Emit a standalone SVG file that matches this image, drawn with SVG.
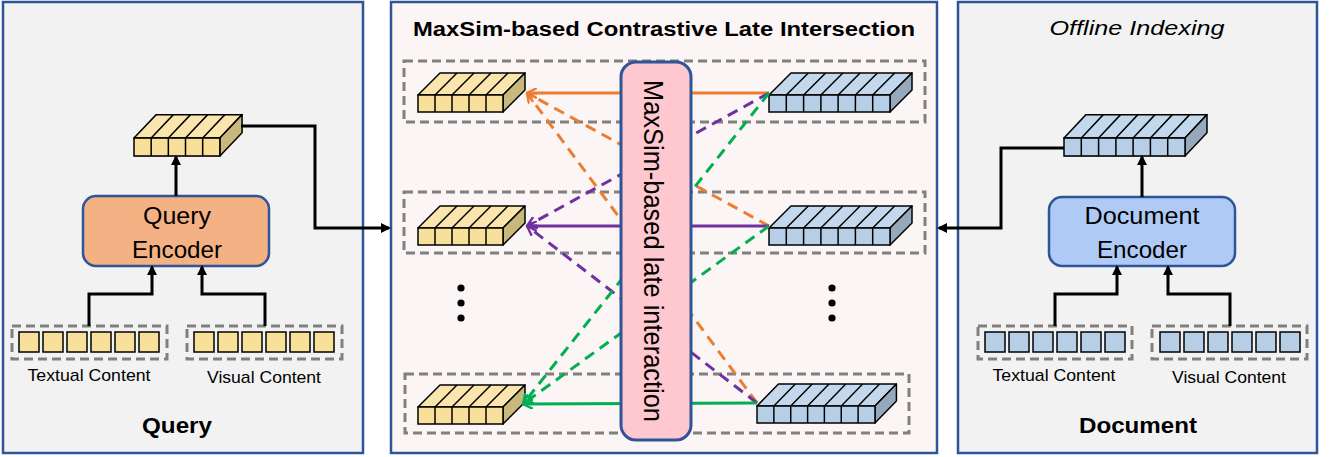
<svg xmlns="http://www.w3.org/2000/svg" width="1330" height="457" viewBox="0 0 1330 457">
<style>
.panel{fill:#F2F2F2;stroke:#2F5597;stroke-width:2.5}
.cpanel{fill:#FBF5F5;stroke:#2F5597;stroke-width:2.5}
.dash{fill:none;stroke:#808080;stroke-width:3;stroke-dasharray:9,5}
.conn{fill:none;stroke:#000;stroke-width:3}
.t{font-family:"Liberation Sans",Arial,sans-serif;fill:#000}
.cellY{fill:#F8E09B;stroke:#000;stroke-width:1.5}
.cellB{fill:#B7CFE6;stroke:#000;stroke-width:1.5}
.or{stroke:#ED7D31;stroke-width:3;fill:none}
.pu{stroke:#7030A0;stroke-width:3;fill:none}
.gr{stroke:#00B050;stroke-width:3;fill:none}
.dsh{stroke-dasharray:11,7}
</style>
<defs>
<marker id="ah" viewBox="0 0 10 10" refX="8" refY="5" markerWidth="10" markerHeight="10" markerUnits="userSpaceOnUse" orient="auto"><path d="M0,0 L10,5 L0,10 z" fill="#000"/></marker>
<marker id="aO" viewBox="0 0 10 10" refX="9" refY="5" markerWidth="11" markerHeight="11" markerUnits="userSpaceOnUse" orient="auto"><path d="M0,0.5 L9,5 L0,9.5" fill="none" stroke="#ED7D31" stroke-width="2.2"/></marker>
<marker id="aP" viewBox="0 0 10 10" refX="9" refY="5" markerWidth="11" markerHeight="11" markerUnits="userSpaceOnUse" orient="auto"><path d="M0,0.5 L9,5 L0,9.5" fill="none" stroke="#7030A0" stroke-width="2.2"/></marker>
<marker id="aG" viewBox="0 0 10 10" refX="9" refY="5" markerWidth="11" markerHeight="11" markerUnits="userSpaceOnUse" orient="auto"><path d="M0,0.5 L9,5 L0,9.5" fill="none" stroke="#00B050" stroke-width="2.2"/></marker>
<g id="tokY">
<polygon points="0,0 22,-22 107,-22 85,0" fill="#FAE6AC" stroke="#000" stroke-width="1.5" stroke-linejoin="round"/>
<polygon points="85,0 107,-22 107,-5 85,17" fill="#C8B87C" stroke="#000" stroke-width="1.5" stroke-linejoin="round"/>
<rect x="0" y="0" width="85" height="17" fill="#F8E09B" stroke="#000" stroke-width="1.5"/>
<path d="M17,0 V17 M34,0 V17 M51,0 V17 M68,0 V17 M17,0 L39,-22 M34,0 L56,-22 M51,0 L73,-22 M68,0 L90,-22" stroke="#000" stroke-width="1.5" fill="none"/>
</g>
<g id="tokB">
<polygon points="0,0 22,-22 143,-22 121,0" fill="#C3D8EC" stroke="#000" stroke-width="1.5" stroke-linejoin="round"/>
<polygon points="121,0 143,-22 143,-5 121,17" fill="#96A9BC" stroke="#000" stroke-width="1.5" stroke-linejoin="round"/>
<rect x="0" y="0" width="121" height="17" fill="#B7CFE6" stroke="#000" stroke-width="1.5"/>
<path d="M17.3,0 V17 M34.6,0 V17 M51.9,0 V17 M69.1,0 V17 M86.4,0 V17 M103.7,0 V17 M17.3,0 L39.3,-22 M34.6,0 L56.6,-22 M51.9,0 L73.9,-22 M69.1,0 L91.1,-22 M86.4,0 L108.4,-22 M103.7,0 L125.7,-22" stroke="#000" stroke-width="1.5" fill="none"/>
</g>
<g id="rowY">
<rect class="cellY" x="0" y="0" width="20" height="20"/><rect class="cellY" x="24" y="0" width="20" height="20"/><rect class="cellY" x="48" y="0" width="20" height="20"/><rect class="cellY" x="72" y="0" width="20" height="20"/><rect class="cellY" x="96" y="0" width="20" height="20"/><rect class="cellY" x="120" y="0" width="20" height="20"/>
</g>
<g id="rowB">
<rect class="cellB" x="0" y="0" width="20" height="20"/><rect class="cellB" x="24" y="0" width="20" height="20"/><rect class="cellB" x="48" y="0" width="20" height="20"/><rect class="cellB" x="72" y="0" width="20" height="20"/><rect class="cellB" x="96" y="0" width="20" height="20"/><rect class="cellB" x="120" y="0" width="20" height="20"/>
</g>
</defs>

<!-- Query panel -->
<g id="query-panel">
<rect class="panel" x="3" y="2" width="360" height="451"/>
<text class="t" x="177" y="433" font-size="22" font-weight="bold" text-anchor="middle" textLength="70" lengthAdjust="spacingAndGlyphs">Query</text>
</g>
<g id="query-token"><use href="#tokY" transform="translate(134,138) scale(1.01,1.06)"/></g>
<g id="query-encoder">
<rect x="83" y="196" width="186" height="70" rx="13" fill="#F4B183" stroke="#2F5597" stroke-width="2.5"/>
<text class="t" x="177" y="224" font-size="24" text-anchor="middle" textLength="68" lengthAdjust="spacingAndGlyphs">Query</text>
<text class="t" x="177" y="258" font-size="24" text-anchor="middle" textLength="90" lengthAdjust="spacingAndGlyphs">Encoder</text>
</g>
<g id="query-textual">
<rect class="dash" x="12" y="326" width="155" height="33"/>
<use href="#rowY" x="19" y="332"/>
<text class="t" x="89" y="381" font-size="17" text-anchor="middle" textLength="123" lengthAdjust="spacingAndGlyphs">Textual Content</text>
</g>
<g id="query-visual">
<rect class="dash" x="187" y="326" width="155" height="33"/>
<use href="#rowY" x="194" y="332"/>
<text class="t" x="264" y="383" font-size="17" text-anchor="middle" textLength="114" lengthAdjust="spacingAndGlyphs">Visual Content</text>
</g>

<!-- Document panel -->
<g id="document-panel">
<rect class="panel" x="958" y="2" width="359" height="451"/>
<text class="t" x="1137" y="35" font-size="20" font-style="italic" text-anchor="middle" textLength="175" lengthAdjust="spacingAndGlyphs">Offline Indexing</text>
<text class="t" x="1138" y="433" font-size="22" font-weight="bold" text-anchor="middle" textLength="118" lengthAdjust="spacingAndGlyphs">Document</text>
</g>
<g id="document-token"><use href="#tokB" transform="translate(1064,138) scale(1,1.06)"/></g>
<g id="document-encoder">
<rect x="1049" y="197" width="186" height="69" rx="13" fill="#B0CAF6" stroke="#2F5597" stroke-width="2.5"/>
<text class="t" x="1142" y="224" font-size="24" text-anchor="middle" textLength="115" lengthAdjust="spacingAndGlyphs">Document</text>
<text class="t" x="1142" y="258" font-size="24" text-anchor="middle" textLength="90" lengthAdjust="spacingAndGlyphs">Encoder</text>
</g>
<g id="document-textual">
<rect class="dash" x="978" y="326" width="154" height="33"/>
<use href="#rowB" x="985" y="332"/>
<text class="t" x="1054" y="381" font-size="17" text-anchor="middle" textLength="123" lengthAdjust="spacingAndGlyphs">Textual Content</text>
</g>
<g id="document-visual">
<rect class="dash" x="1152" y="326" width="155" height="33"/>
<use href="#rowB" x="1160" y="332"/>
<text class="t" x="1229" y="383" font-size="17" text-anchor="middle" textLength="114" lengthAdjust="spacingAndGlyphs">Visual Content</text>
</g>

<!-- Center panel -->
<g id="center-panel">
<rect class="cpanel" x="391" y="2" width="546" height="451"/>
<text class="t" x="664" y="36" font-size="20" font-weight="bold" text-anchor="middle" textLength="502" lengthAdjust="spacingAndGlyphs">MaxSim-based Contrastive Late Intersection</text>
<rect class="dash" x="404" y="61" width="521" height="61"/>
<rect class="dash" x="404" y="192" width="521" height="61"/>
<rect class="dash" x="405" y="374" width="504" height="59"/>
</g>
<g id="q-row1"><use href="#tokY" x="418" y="95"/></g>
<g id="q-row2"><use href="#tokY" x="418" y="228"/></g>
<g id="q-row3"><use href="#tokY" x="418" y="407"/></g>
<g id="d-row1"><use href="#tokB" x="769" y="95"/></g>
<g id="d-row2"><use href="#tokB" x="769" y="228"/></g>
<g id="d-row3"><use href="#tokB" transform="translate(757,406) scale(0.975,1)"/></g>
<g id="ellipsis">
<circle cx="461" cy="288" r="3.6"/><circle cx="461" cy="303" r="3.6"/><circle cx="461" cy="318" r="3.6"/>
<circle cx="832" cy="288" r="3.6"/><circle cx="832" cy="303" r="3.6"/><circle cx="832" cy="318" r="3.6"/>
</g>

<g id="connectors">
<path class="conn" d="M241,126 H315 V228 H389" marker-end="url(#ah)"/>
<path class="conn" d="M176,196 V157" marker-end="url(#ah)"/>
<path class="conn" d="M89,326 V294 H152 V267" marker-end="url(#ah)"/>
<path class="conn" d="M265,326 V294 H202 V267" marker-end="url(#ah)"/>
<path class="conn" d="M1064,148 H1001 V228 H939" marker-end="url(#ah)"/>
<path class="conn" d="M1142,197 V157" marker-end="url(#ah)"/>
<path class="conn" d="M1055,326 V294 H1117 V267" marker-end="url(#ah)"/>
<path class="conn" d="M1230,326 V294 H1168 V267" marker-end="url(#ah)"/>
<line class="or" x1="769" y1="93" x2="527" y2="93" marker-end="url(#aO)"/>
<line class="or dsh" x1="769" y1="226" x2="527" y2="93" marker-end="url(#aO)"/>
<line class="or dsh" x1="757" y1="403" x2="527" y2="93" marker-end="url(#aO)"/>
<line class="pu" x1="769" y1="226" x2="527" y2="226" marker-end="url(#aP)"/>
<line class="pu dsh" x1="769" y1="93" x2="527" y2="226" marker-end="url(#aP)"/>
<line class="pu dsh" x1="757" y1="403" x2="527" y2="226" marker-end="url(#aP)"/>
<line class="gr" x1="757" y1="403" x2="523" y2="404" marker-end="url(#aG)"/>
<line class="gr dsh" x1="769" y1="93" x2="523" y2="404" marker-end="url(#aG)"/>
<line class="gr dsh" x1="769" y1="226" x2="523" y2="404" marker-end="url(#aG)"/>
</g>

<g id="maxsim-box">
<rect x="621" y="62" width="70" height="378" rx="15" fill="#FFC7CE" stroke="#2F5597" stroke-width="3"/>
<text class="t" transform="translate(644,251) rotate(90)" font-size="27" text-anchor="middle" textLength="342" lengthAdjust="spacingAndGlyphs">MaxSim-based late interaction</text>
</g>
</svg>
